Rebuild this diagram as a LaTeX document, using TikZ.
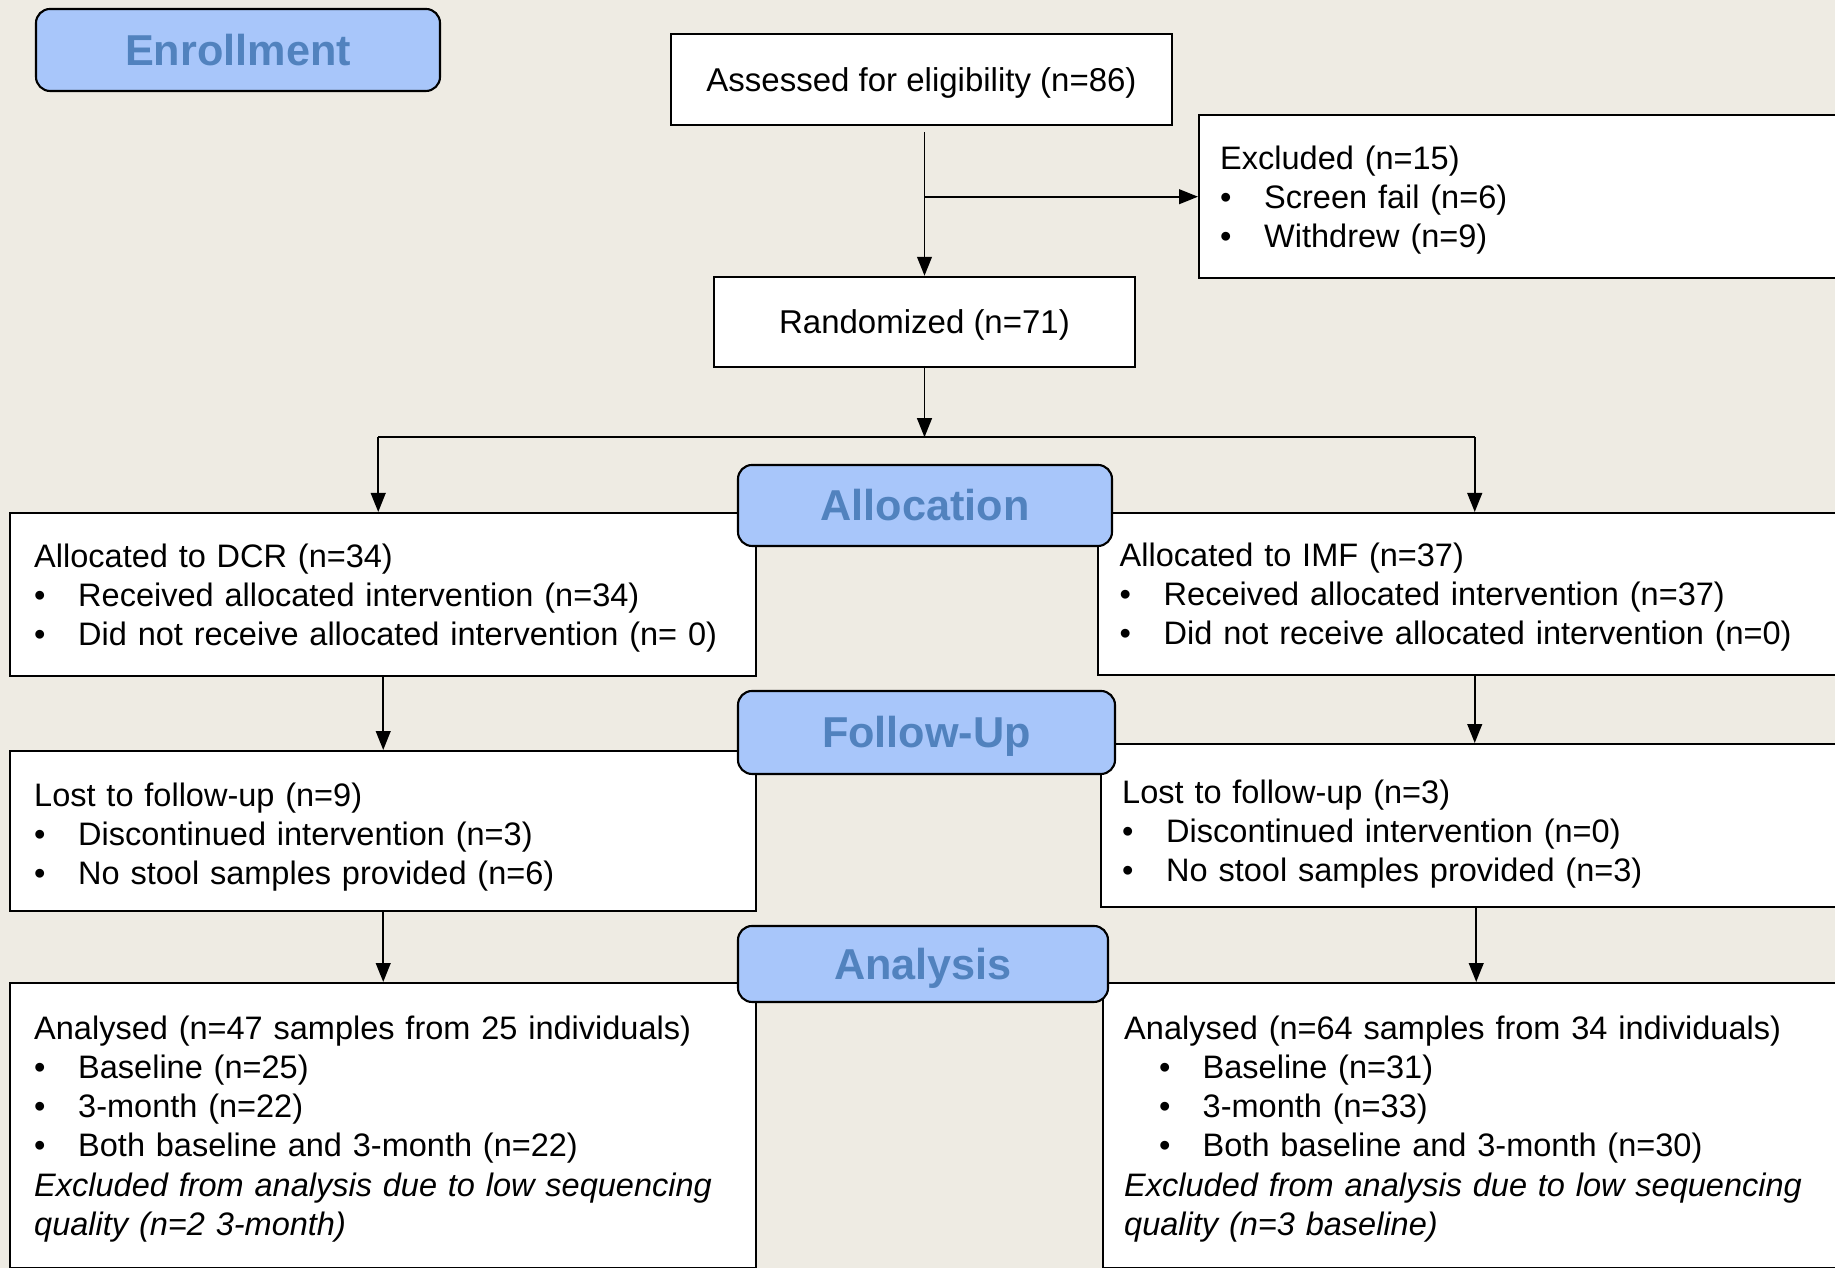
\documentclass[tikz,border=0pt]{standalone}
\usepackage{fontspec}
\setmainfont{Liberation Sans}
\usetikzlibrary{positioning,arrows.meta}
\definecolor{paper}{HTML}{EEEBE3}
\definecolor{stagefill}{HTML}{A8C6FA}
\definecolor{stagetext}{HTML}{5182BE}
\newcommand{\bul}{\makebox[0.44cm][l]{\textbullet}}
\newcommand{\bulin}{\hspace*{0.35cm}\makebox[0.435cm][l]{\textbullet}}

\begin{document}
\begin{tikzpicture}[font=\fontsize{9.39}{11.1}\selectfont,
  plain/.style={draw,fill=white,line width=0.7pt},
  listbox/.style={plain,anchor=north west,align=left,inner xsep=#1,inner ysep=0pt,
    text depth=22.2pt,font=\fontsize{9.25}{11.1}\selectfont},
  listbox/.default=0.24cm,
  stage/.style={draw,fill=stagefill,rounded corners=4pt,line width=0.6pt,text=stagetext,
    text height=8.8pt,text depth=0pt,font=\fontsize{12.3}{14}\selectfont\bfseries},
  arr/.style={-{Triangle[length=5.4pt,width=4.2pt]},line width=0.5pt}]
\useasboundingbox (0,0) rectangle (18.35,12.68);
\fill[paper] (0,0) rectangle (18.35,12.68);
\clip (0,0) rectangle (18.35,12.68);

% enrollment
\node[stage,minimum width=4.04cm,minimum height=0.82cm] (enrol) at (2.38,12.18) {Enrollment};
\node[plain,text depth=0pt,minimum width=5.01cm,minimum height=0.91cm] (assess) at (9.215,11.885) {Assessed for eligibility (n=86)};
\node[listbox=0.21cm,text width=6.10cm,minimum height=1.63cm] (excl) at (11.98,11.54)
  {Excluded (n=15)\\\bul Screen fail (n=6)\\\bul Withdrew (n=9)};
\node[plain,text depth=0pt,minimum width=4.21cm,minimum height=0.90cm] (rand) at (9.245,9.46) {Randomized (n=71)};
\coordinate[below=0.69cm of rand.south] (split);

% allocation
\node[listbox,text width=6.98cm,minimum height=1.63cm] (dcr) at (0.09,7.56)
  {Allocated to DCR (n=34)\\\bul Received allocated intervention (n=34)\\\bul Did not receive allocated intervention (n= 0)};
\node[listbox=0.215cm,text width=7.10cm,minimum height=1.62cm] (imf) at (10.97,7.56)
  {Allocated to IMF (n=37)\\\bul Received allocated intervention (n=37)\\\bul Did not receive allocated intervention (n=0)};

% follow-up
\node[listbox,text width=6.98cm,minimum height=1.60cm,text depth=20.6pt] (lostdcr) at (0.09,5.18)
  {Lost to follow-up (n=9)\\\bul Discontinued intervention (n=3)\\\bul No stool samples provided (n=6)};
\node[listbox=0.21cm,text width=7.08cm,minimum height=1.63cm,text depth=19.5pt] (lostimf) at (11.00,5.25)
  {Lost to follow-up (n=3)\\\bul Discontinued intervention (n=0)\\\bul No stool samples provided (n=3)};

% analysis
\node[listbox,text width=6.98cm,minimum height=2.85cm,text depth=55.5pt] (anadcr) at (0.09,2.86)
  {Analysed (n=47 samples from 25 individuals)\\\bul Baseline (n=25)\\\bul 3-month (n=22)\\
   \bul Both baseline and 3-month (n=22)\\\textit{Excluded from analysis due to low sequencing}\\
   \textit{quality (n=2 3-month)}};
\node[listbox=0.21cm,text width=7.06cm,minimum height=2.85cm,text depth=55.5pt] (anaimf) at (11.02,2.86)
  {Analysed (n=64 samples from 34 individuals)\\\bulin Baseline (n=31)\\\bulin 3-month (n=33)\\
   \bulin Both baseline and 3-month (n=30)\\\textit{Excluded from analysis due to low sequencing}\\
   \textit{quality (n=3 baseline)}};

% connectors
\draw[arr,shorten <=0.06cm] (rand.north |- assess.south) -- (rand.north);
\draw[arr] (rand.north |- excl.west) -- (excl.west);
\draw[arr] (rand.south) -- (split);
\draw[line width=0.5pt] ([xshift=-0.05cm]dcr.north |- split) -- (imf.north |- split);
\draw[arr] ([xshift=-0.05cm]dcr.north |- split) -- ([xshift=-0.05cm]dcr.north);
\draw[arr] (imf.north |- split) -- (imf.north);
\foreach \a/\b in {dcr/lostdcr,lostdcr/anadcr,imf/lostimf,lostimf/anaimf}
  \draw[arr] (\a.south) -- (\a.south |- \b.north);

% stage labels on top
\foreach \n/\t/\x/\y/\w/\h in {alloc/Allocation/9.25/7.625/3.74/0.81,
    follow/Follow-Up/9.265/5.355/3.77/0.83,analysis/Analysis/9.23/3.04/3.70/0.76}
  \node[stage,minimum width=\w cm,minimum height=\h cm] (\n) at (\x,\y) {\t};

\end{tikzpicture}
\end{document}
